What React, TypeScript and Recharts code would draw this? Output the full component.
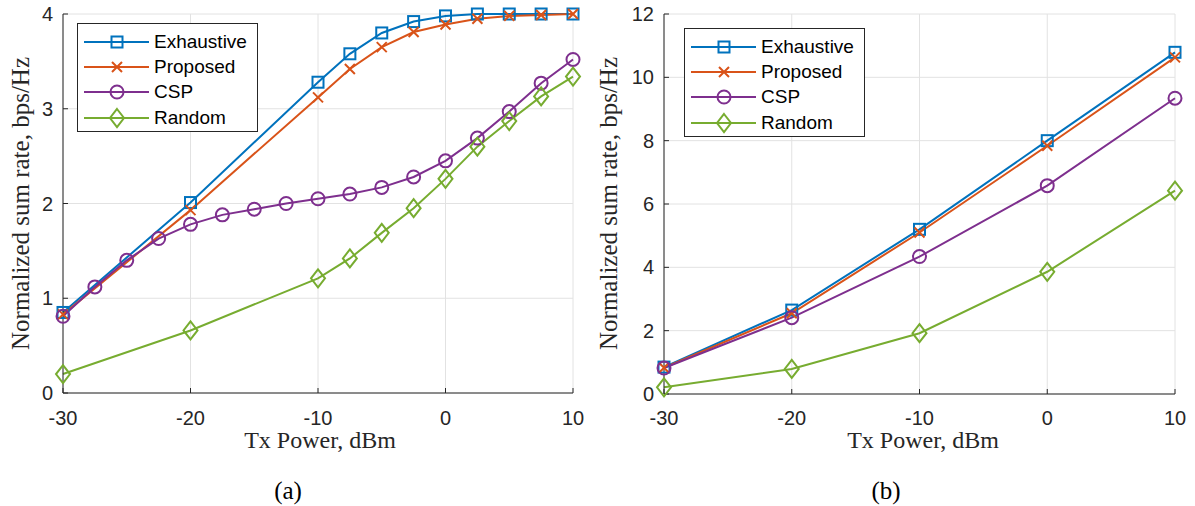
import React from 'react';
import { LineChart, Line, XAxis, YAxis, CartesianGrid, Legend, Label } from 'recharts';

// ---------- data ----------
const xTicks = [-30, -20, -10, 0, 10];
const yTicksA = [0, 1, 2, 3, 4];
const yTicksB = [0, 2, 4, 6, 8, 10, 12];

const powerCoarseA = [-30, -20, -10, -7.5, -5, -2.5, 0, 2.5, 5, 7.5, 10];
const powerFineA = [-30, -27.5, -25, -22.5, -20, -17.5, -15, -12.5, -10, -7.5, -5, -2.5, 0, 2.5, 5, 7.5, 10];
const exhaustiveA = [0.85, 2.01, 3.28, 3.58, 3.8, 3.92, 3.98, 4.0, 4.0, 4.0, 4.0];
const proposedA = [0.83, 1.93, 3.12, 3.42, 3.65, 3.81, 3.89, 3.95, 3.98, 3.99, 4.0];
const cspA = [0.81, 1.12, 1.4, 1.63, 1.78, 1.88, 1.94, 2.0, 2.05, 2.1, 2.17, 2.28, 2.45, 2.69, 2.97, 3.27, 3.52];
const randomA = [0.2, 0.66, 1.21, 1.42, 1.69, 1.95, 2.26, 2.6, 2.87, 3.13, 3.34];

const powerB = [-30, -20, -10, 0, 10];
const exhaustiveB = [0.85, 2.65, 5.2, 8.0, 10.79];
const proposedB = [0.83, 2.55, 5.1, 7.84, 10.63];
const cspB = [0.82, 2.41, 4.34, 6.58, 9.34];
const randomB = [0.21, 0.79, 1.92, 3.86, 6.42];

const seriesNames = ['Exhaustive', 'Proposed', 'CSP', 'Random'];
const seriesColors = ['#0072BD', '#D95319', '#7E2F8E', '#77AC30'];
const seriesShapes = ['square', 'x', 'circle', 'diamond'];

const yLabelText = 'Normalized sum rate, bps/Hz';
const xLabelText = 'Tx Power, dBm';

// ---------- helpers ----------
const zip = (xs: number[], ys: number[]) => xs.map((x, i) => ({ x, y: ys[i] }));

const seriesA = [
  zip(powerCoarseA, exhaustiveA),
  zip(powerCoarseA, proposedA),
  zip(powerFineA, cspA),
  zip(powerCoarseA, randomA),
];
const seriesB = [zip(powerB, exhaustiveB), zip(powerB, proposedB), zip(powerB, cspB), zip(powerB, randomB)];

const AXIS = '#262626';
const SANS = '"Liberation Sans", Arial, Helvetica, sans-serif';
const SERIF = '"Liberation Serif", "Times New Roman", serif';

function Marker({ shape, cx, cy, color }: any) {
  const sw = 2;
  if (cx == null || cy == null) return null;
  switch (shape) {
    case 'square':
      return <rect x={cx - 5.5} y={cy - 5.5} width={11} height={11} fill="none" stroke={color} strokeWidth={sw} />;
    case 'x':
      return (
        <path
          d={`M${cx - 5},${cy - 5}L${cx + 5},${cy + 5}M${cx - 5},${cy + 5}L${cx + 5},${cy - 5}`}
          fill="none"
          stroke={color}
          strokeWidth={sw}
        />
      );
    case 'circle':
      return <circle cx={cx} cy={cy} r={6.5} fill="none" stroke={color} strokeWidth={sw} />;
    case 'diamond':
      return (
        <path
          d={`M${cx},${cy - 9}L${cx + 7},${cy}L${cx},${cy + 9}L${cx - 7},${cy}Z`}
          fill="none"
          stroke={color}
          strokeWidth={sw}
        />
      );
    default:
      return null;
  }
}

function LegendBox() {
  return (
    <div
      style={{
        width: 181,
        height: 109,
        boxSizing: 'border-box',
        border: `1px solid ${AXIS}`,
        background: '#fff',
        paddingTop: 5,
      }}
    >
      {seriesNames.map((name, i) => (
        <div key={name} style={{ display: 'flex', alignItems: 'center', height: 25.3 }}>
          <svg width={76} height={24} style={{ display: 'block' }}>
            <line x1={6} y1={12} x2={71} y2={12} stroke={seriesColors[i]} strokeWidth={2} />
            <Marker shape={seriesShapes[i]} cx={39} cy={12} color={seriesColors[i]} />
          </svg>
          <span style={{ fontFamily: SANS, fontSize: 19, color: '#000', lineHeight: '24px' }}>{name}</span>
        </div>
      ))}
    </div>
  );
}

function Panel(props: any) {
  const {
    series,
    yTicks,
    yMax,
    width,
    yAxisWidth,
    marginRight,
    marginBottom,
    xTickMargin,
    legendLeft,
    legendTop,
    caption,
    captionX,
    yLabelX,
    xLabelX,
  } = props;
  const tickStyle = { fill: AXIS, fontSize: 20, fontFamily: SANS };
  return (
    <LineChart width={width} height={506} margin={{ top: 14, right: marginRight, left: 0, bottom: marginBottom }}>
      <CartesianGrid stroke="#e2e2e2" strokeWidth={1} />
      <XAxis
        type="number"
        dataKey="x"
        domain={[-30, 10]}
        ticks={xTicks}
        interval={0}
        height={30}
        tickSize={-5}
        tickMargin={xTickMargin}
        stroke={AXIS}
        tick={tickStyle}
      >
        <Label
          content={() => (
            <g>
              <text x={xLabelX} y={448} textAnchor="middle" fontFamily={SERIF} fontSize={24} fill={AXIS}>
                {xLabelText}
              </text>
              <text x={captionX} y={499} textAnchor="middle" fontFamily={SERIF} fontSize={25} fill="#000">
                {caption}
              </text>
            </g>
          )}
        />
      </XAxis>
      <XAxis
        xAxisId="top"
        orientation="top"
        type="number"
        dataKey="x"
        domain={[-30, 10]}
        ticks={xTicks}
        interval={0}
        height={0}
        tickSize={-5}
        stroke={AXIS}
        tickFormatter={() => ''}
      />
      <YAxis
        type="number"
        domain={[0, yMax]}
        ticks={yTicks}
        interval={0}
        width={yAxisWidth}
        tickSize={-5}
        tickMargin={15}
        stroke={AXIS}
        tick={tickStyle}
      >
        <Label
          content={() => (
            <text
              x={yLabelX}
              y={203.5}
              transform={`rotate(-90, ${yLabelX}, 203.5)`}
              textAnchor="middle"
              dominantBaseline="central"
              fontFamily={SERIF}
              fontSize={25}
              fill={AXIS}
            >
              {yLabelText}
            </text>
          )}
        />
      </YAxis>
      <YAxis
        yAxisId="right"
        orientation="right"
        type="number"
        domain={[0, yMax]}
        ticks={yTicks}
        interval={0}
        width={0}
        tickSize={-5}
        stroke={AXIS}
        tickFormatter={() => ''}
      />
      {series.map((data: any[], i: number) => (
        <Line
          key={seriesNames[i]}
          data={data}
          dataKey="y"
          name={seriesNames[i]}
          type="linear"
          stroke={seriesColors[i]}
          strokeWidth={2}
          isAnimationActive={false}
          dot={(p: any) => (
            <Marker key={`${i}-${p.index}`} shape={seriesShapes[i]} cx={p.cx} cy={p.cy} color={seriesColors[i]} />
          )}
          activeDot={false}
        />
      ))}
      <Legend
        layout="horizontal"
        verticalAlign="middle"
        align="center"
        wrapperStyle={{ position: 'absolute', left: legendLeft, top: legendTop, width: 181, height: 109 }}
        content={() => <LegendBox />}
      />
    </LineChart>
  );
}

export default function App() {
  return (
    <div style={{ position: 'absolute', left: 0, top: 0, width: 1195, height: 506, background: '#fff' }}>
      <div style={{ position: 'absolute', left: 0, top: 0 }}>
        <Panel
          series={seriesA}
          yTicks={yTicksA}
          yMax={4}
          width={590}
          yAxisWidth={63}
          marginRight={17}
          marginBottom={83}
          xTickMargin={23}
          legendLeft={77}
          legendTop={23}
          caption="(a)"
          captionX={288}
          yLabelX={20}
          xLabelX={320}
        />
      </div>
      <div style={{ position: 'absolute', left: 585, top: 0 }}>
        <Panel
          series={seriesB}
          yTicks={yTicksB}
          yMax={12}
          width={610}
          yAxisWidth={79}
          marginRight={20}
          marginBottom={82}
          xTickMargin={22}
          legendLeft={99}
          legendTop={28}
          caption="(b)"
          captionX={301}
          yLabelX={23}
          xLabelX={338}
        />
      </div>
    </div>
  );
}
